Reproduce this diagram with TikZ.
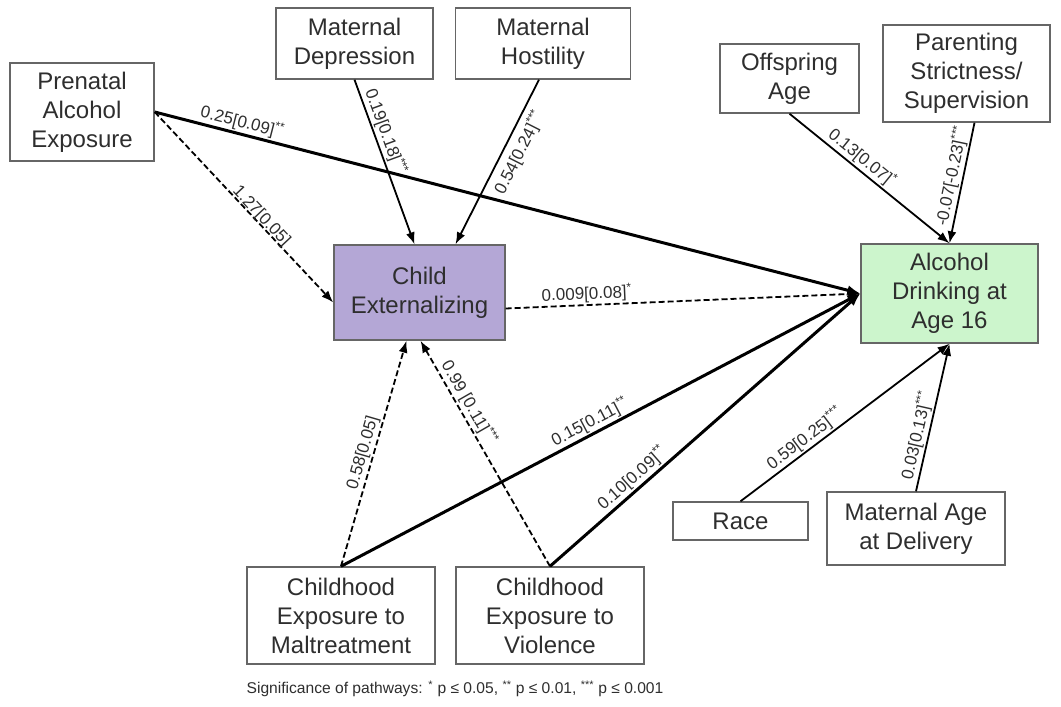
\documentclass[tikz,border=0pt]{standalone}
\usepackage{fontspec}
\setmainfont{Liberation Sans}
\usetikzlibrary{arrows.meta}
\definecolor{txt}{HTML}{2E2E2E}
\definecolor{bord}{HTML}{666666}
\definecolor{purp}{HTML}{B4A7D6}
\definecolor{grn}{HTML}{CCF5CC}
\tikzset{
  box/.style={draw=bord, line width=1.4pt, align=center, text=txt, inner sep=2pt,
    font=\fontsize{24}{29}\selectfont},
  conn/.style={line width=1.8pt, -{Latex[length=12pt,width=9pt]}},
  thickconn/.style={line width=3pt, -{Latex[length=13pt,width=10pt]}},
  dconn/.style={line width=1.8pt, dash pattern=on 6pt off 3pt, -{Latex[length=12pt,width=9pt]}},
  lab/.style={sloped, text=txt, inner sep=1.5pt, font=\fontsize{17}{19}\selectfont},
}
\newcommand{\stt}[1]{\textsuperscript{#1}}
\begin{document}
\begin{tikzpicture}[x=1pt,y=-1pt]
\useasboundingbox (0,0) rectangle (1061,707);
\node[box, minimum width=144pt, minimum height=98pt] (prenatal) at (82,112) {Prenatal\\Alcohol\\Exposure};
\node[box, minimum width=157pt, minimum height=71pt] (depression) at (354.5,43.5) {Maternal\\Depression};
\node[box, minimum width=175pt, minimum height=71pt] (hostility) at (543,43.5) {Maternal\\Hostility};
\node[box, minimum width=139pt, minimum height=69pt] (offspring) at (789.5,78.5) {Offspring\\Age};
\node[box, minimum width=167pt, minimum height=97pt] (parenting) at (966.5,73.5) {Parenting\\Strictness/\\Supervision};
\node[box, fill=purp, minimum width=171pt, minimum height=95pt] (child) at (419.5,292.5) {Child\\Externalizing};
\node[box, fill=grn, minimum width=177pt, minimum height=99pt] (alcohol) at (949.5,293.5) {Alcohol\\Drinking at\\Age 16};
\node[box, minimum width=135pt, minimum height=38pt] (race) at (740.5,521) {Race};
\node[box, minimum width=178pt, minimum height=73pt] (matage) at (916,528.5) {Maternal Age\\at Delivery};
\node[box, minimum width=188pt, minimum height=97pt] (maltreat) at (341,615.5) {Childhood\\Exposure to\\Maltreatment};
\node[box, minimum width=188pt, minimum height=97pt] (violence) at (550,615.5) {Childhood\\Exposure to\\Violence};
\node[text=txt, font=\fontsize{15.6}{18}\selectfont] (note) at (455,689)
  {Significance of pathways: \stt{*} p ≤ 0.05, \stt{**} p ≤ 0.01, \stt{***} p ≤ 0.001};

\draw[thickconn] (prenatal.east) -- node[lab, above, pos=0.12] {0.25[0.09]\stt{**}} (alcohol.west);
\draw[dconn] (prenatal.east) -- node[lab, above=-4pt, pos=0.57] {1.27[0.05]} ([yshift=-10pt]child.west);
\draw[conn] (depression.south) -- node[lab, above, pos=0.34] {0.19[0.18]\stt{***}} ([xshift=-5pt]child.north);
\draw[conn] ([xshift=-4pt]hostility.south) -- node[lab, below=4pt, pos=0.4] {0.54[0.24]\stt{***}} ([xshift=36pt]child.north);
\draw[dconn] ([yshift=-16pt]child.east) -- node[lab, above, pos=0.23] {0.009[0.08]\stt{*}} (alcohol.west);
\draw[dconn] (maltreat.north) -- node[lab, above, pos=0.49] {0.58[0.05]} ([xshift=-13pt]child.south);
\draw[dconn] (violence.north) -- node[lab, above, pos=0.7] {0.99 [0.11]\stt{***}} ([xshift=1pt]child.south);
\draw[thickconn] (maltreat.north) -- node[lab, above, pos=0.49] {0.15[0.11]\stt{**}} (alcohol.west);
\draw[thickconn] (violence.north) -- node[lab, above, pos=0.29] {0.10[0.09]\stt{**}} (alcohol.west);
\draw[conn] (offspring.south) -- node[lab, above, pos=0.41] {0.13[0.07]\stt{*}} (alcohol.north);
\draw[conn] ([xshift=8pt]parenting.south) -- node[lab, above, pos=0.46] {-0.07[-0.23]\stt{***}} (alcohol.north);
\draw[conn] (race.north) -- node[lab, above, pos=0.34] {0.59[0.25]\stt{***}} (alcohol.south);
\draw[conn] (matage.north) -- node[lab, above, pos=0.36] {0.03[0.13]\stt{***}} (alcohol.south);
\end{tikzpicture}
\end{document}
